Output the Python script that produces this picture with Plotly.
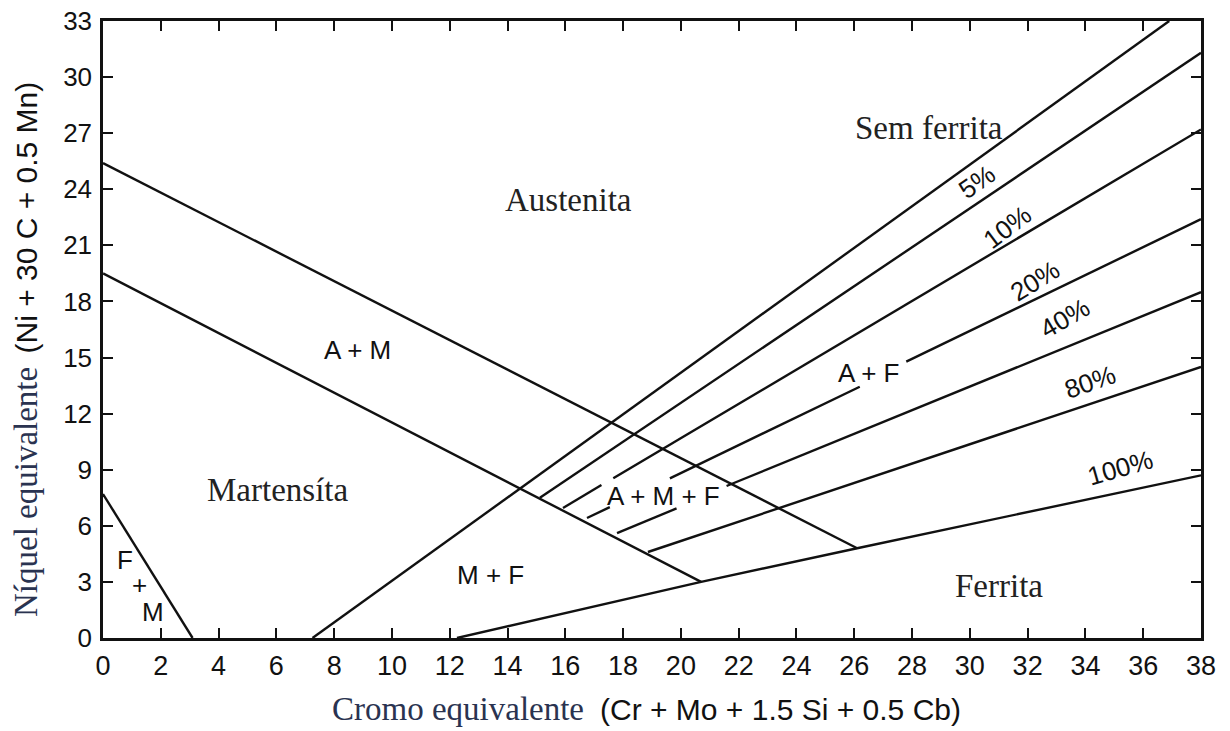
import plotly.graph_objects as go

# ---- data (Cr equivalent, Ni equivalent) ----
fm_x = [0, 3.1]
fm_y = [7.7, 0]
mart_x = [0, 20.7]
mart_y = [19.5, 3.0]
am_x = [0, 26.1]
am_y = [25.4, 4.8]
f0_x = [7.25, 36.9]
f0_y = [0, 33]
f5_x = [15.12, 38]
f5_y = [7.5, 31.3]
f10_x = [15.92, 17.25, None, 17.66, 38]
f10_y = [6.95, 8.18, None, 8.54, 27.2]
f20_x = [16.75, 17.54, None, 19.62, 26.19, None, 27.8, 38]
f20_y = [6.42, 7.0, None, 8.54, 13.44, None, 14.78, 22.4]
f40_x = [17.79, 19.85, None, 21.58, 38]
f40_y = [5.61, 6.93, None, 8.13, 18.5]
f80_x = [18.86, 38]
f80_y = [4.6, 14.5]
f100_x = [12.25, 20.7, 26.1, 38]
f100_y = [0, 3.0, 4.8, 8.7]

x_ticks = list(range(0, 39, 2))
y_ticks = list(range(0, 34, 3))

serif_labels = ["Austenita", "Martensíta", "Sem ferrita", "Ferrita"]
serif_x = [16.1, 6.05, 28.6, 31.0]
serif_y = [23.4, 7.9, 27.3, 2.8]

sans_labels = ["A + M", "M + F", "A + M + F", "A + F", "F", "+", "M"]
sans_x = [8.8, 13.4, 19.4, 26.5, 0.76, 1.25, 1.73]
sans_y = [15.4, 3.37, 7.6, 14.2, 4.17, 2.83, 1.39]

pct_labels = ["5%", "10%", "20%", "40%", "80%", "100%"]
pct_x = [30.24, 31.3, 32.25, 33.3, 34.15, 35.2]
pct_y = [24.4, 22.0, 19.1, 17.1, 13.7, 9.1]
pct_angle = [-35, -37, -32, -30, -19, -16]

fig = go.Figure()
line_style = dict(color="#111111", width=2.4)
for xs, ys in [(fm_x, fm_y), (mart_x, mart_y), (am_x, am_y), (f0_x, f0_y),
               (f5_x, f5_y), (f10_x, f10_y), (f20_x, f20_y), (f40_x, f40_y),
               (f80_x, f80_y), (f100_x, f100_y)]:
    fig.add_trace(go.Scatter(x=xs, y=ys, mode="lines", line=line_style,
                             connectgaps=False, showlegend=False, hoverinfo="skip"))

SERIF = "Liberation Serif, Times New Roman, serif"
SANS = "Liberation Sans, Arial, sans-serif"

for t, x, y in zip(serif_labels, serif_x, serif_y):
    fig.add_annotation(x=x, y=y, text=t, showarrow=False,
                       font=dict(family=SERIF, size=33, color="#222222"))
for t, x, y in zip(sans_labels, sans_x, sans_y):
    fig.add_annotation(x=x, y=y, text=t, showarrow=False,
                       font=dict(family=SANS, size=26, color="#111111"))
for t, x, y, a in zip(pct_labels, pct_x, pct_y, pct_angle):
    fig.add_annotation(x=x, y=y, text=t, showarrow=False, textangle=a,
                       font=dict(family=SANS, size=26, color="#111111"))

# axis titles (mixed fonts)
title_col = "#2a3350"
fig.add_annotation(xref="paper", yref="paper", x=(586 - 103) / 1098, y=-(709 - 638) / 617,
                   xanchor="right", yanchor="middle", text="Cromo equivalente", showarrow=False,
                   font=dict(family=SERIF, size=33, color=title_col))
fig.add_annotation(xref="paper", yref="paper", x=(598 - 103) / 1098, y=-(709 - 638) / 617,
                   xanchor="left", yanchor="middle", text="(Cr + Mo + 1.5 Si + 0.5 Cb)", showarrow=False,
                   font=dict(family=SANS, size=30, color="#111111"))
fig.add_annotation(xref="paper", yref="paper", x=-(103 - 6) / 1098, y=(638 - 619) / 617,
                   xanchor="left", yanchor="bottom", textangle=-90, text="Níquel equivalente",
                   showarrow=False, font=dict(family=SERIF, size=33, color=title_col))
fig.add_annotation(xref="paper", yref="paper", x=-(103 - 7) / 1098, y=(638 - 80) / 617,
                   xanchor="left", yanchor="top", textangle=-90, text="(Ni + 30 C + 0.5 Mn)",
                   showarrow=False, font=dict(family=SANS, size=30, color="#111111"))

axis_common = dict(showgrid=False, zeroline=False, showline=True, linecolor="#111111",
                   linewidth=2.5, mirror="ticks", ticks="inside", ticklen=10, tickwidth=2,
                   tickcolor="#111111", automargin=False, ticklabeloverflow="allow")
fig.update_xaxes(range=[0, 38], tickvals=x_ticks, ticklabelstandoff=2,
                 tickfont=dict(family=SANS, size=27, color="#111111"), **axis_common)
fig.update_yaxes(range=[0, 33], tickvals=y_ticks, ticklabelstandoff=3,
                 tickfont=dict(family=SANS, size=26, color="#111111"), **axis_common)

# page body has an 8px default margin: size the figure so the plot area lands
# at the same pixels as the reference
fig.update_layout(width=1222, height=723, margin=dict(l=95, r=29, t=13, b=93, autoexpand=False),
                  plot_bgcolor="white", paper_bgcolor="white")

fig.write_html("out.html")
